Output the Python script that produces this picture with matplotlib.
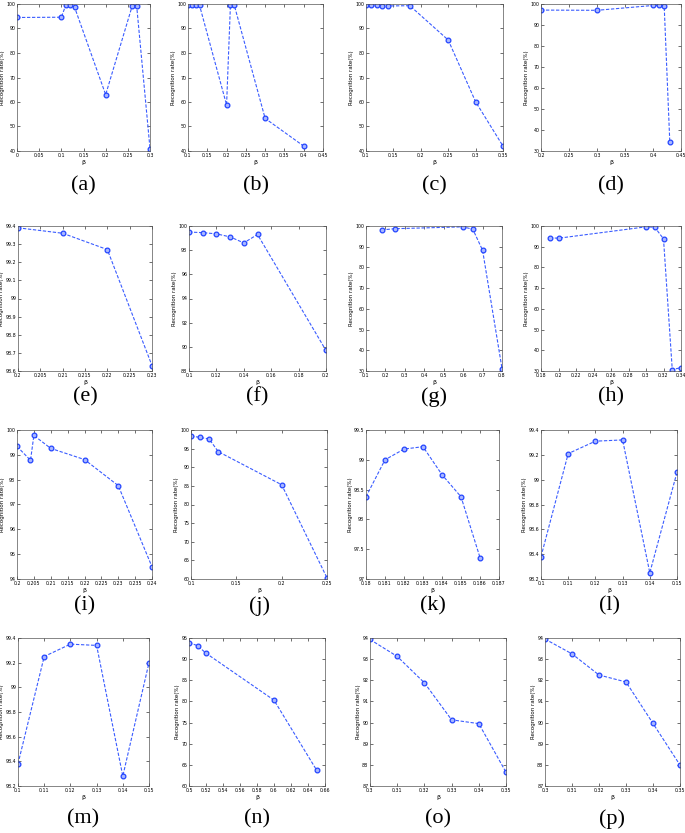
import numpy as np
import matplotlib.pyplot as plt
from matplotlib.ticker import MultipleLocator, FuncFormatter

# values, one pair of lists per panel
beta_a = [0.0, 0.1, 0.11, 0.12, 0.13, 0.2, 0.26, 0.27, 0.3]
rate_a = [94.5, 94.6, 99.5, 99.5, 98.6, 63.0, 99.3, 99.1, 41.0]
beta_b = [0.1, 0.11, 0.12, 0.13, 0.2, 0.21, 0.22, 0.3, 0.4]
rate_b = [99.5, 99.5, 99.4, 99.4, 58.8, 99.5, 99.5, 53.3, 42.0]
beta_c = [0.1, 0.11, 0.12, 0.13, 0.14, 0.18, 0.25, 0.3, 0.35]
rate_c = [99.5, 99.5, 99.4, 99.3, 99.2, 99.3, 85.3, 60.1, 42.0]
beta_d = [0.2, 0.3, 0.4, 0.41, 0.42, 0.43]
rate_d = [97.1, 97.0, 99.3, 99.3, 99.0, 34.2]

beta_e = [0.2, 0.21, 0.22, 0.23]
rate_e = [99.39, 99.36, 99.27, 98.63]
beta_f = [0.1, 0.11, 0.12, 0.13, 0.14, 0.15, 0.2]
rate_f = [99.5, 99.45, 99.35, 99.1, 98.6, 99.3, 89.7]
beta_g = [0.18, 0.25, 0.6, 0.65, 0.7, 0.8]
rate_g = [98.1, 98.7, 99.6, 98.4, 88.3, 31.2]
beta_h = [0.19, 0.2, 0.3, 0.31, 0.32, 0.33, 0.34]
rate_h = [94.3, 94.1, 99.6, 99.4, 93.8, 30.7, 31.6]

beta_i = [0.2, 0.204, 0.205, 0.21, 0.22, 0.23, 0.24]
rate_i = [99.34, 98.78, 99.78, 99.26, 98.81, 97.76, 94.49]
beta_j = [0.1, 0.11, 0.12, 0.13, 0.2, 0.25]
rate_j = [98.4, 98.0, 97.6, 94.2, 85.3, 60.3]
beta_k = [0.18, 0.181, 0.182, 0.183, 0.184, 0.185, 0.186]
rate_k = [98.38, 99.0, 99.18, 99.22, 98.75, 98.38, 97.36]
beta_l = [0.1, 0.11, 0.12, 0.13, 0.14, 0.15]
rate_l = [98.38, 99.21, 99.31, 99.32, 98.25, 99.06]

beta_m = [0.1, 0.11, 0.12, 0.13, 0.14, 0.15]
rate_m = [98.38, 99.25, 99.35, 99.34, 98.28, 99.2]
beta_n = [0.5, 0.51, 0.52, 0.6, 0.65]
rate_n = [93.9, 93.2, 91.4, 80.3, 63.8]
beta_o = [0.3, 0.31, 0.32, 0.33, 0.34, 0.35]
rate_o = [93.93, 93.13, 91.88, 90.13, 89.95, 87.65]
beta_p = [0.3, 0.31, 0.32, 0.33, 0.34, 0.35]
rate_p = [93.95, 93.25, 92.25, 91.92, 89.96, 87.99]

# (x, y, xlim, xstep, ylim, ystep)
panels = [
    (beta_a, rate_a, (0, 0.3), 0.05, (40, 100), 10),
    (beta_b, rate_b, (0.1, 0.45), 0.05, (40, 100), 10),
    (beta_c, rate_c, (0.1, 0.35), 0.05, (40, 100), 10),
    (beta_d, rate_d, (0.2, 0.45), 0.05, (30, 100), 10),
    (beta_e, rate_e, (0.2, 0.23), 0.005, (98.6, 99.4), 0.1),
    (beta_f, rate_f, (0.1, 0.2), 0.02, (88, 100), 2),
    (beta_g, rate_g, (0.1, 0.8), 0.1, (30, 100), 10),
    (beta_h, rate_h, (0.18, 0.34), 0.02, (30, 100), 10),
    (beta_i, rate_i, (0.2, 0.24), 0.005, (94, 100), 1),
    (beta_j, rate_j, (0.1, 0.25), 0.05, (60, 100), 5),
    (beta_k, rate_k, (0.18, 0.187), 0.001, (97, 99.5), 0.5),
    (beta_l, rate_l, (0.1, 0.15), 0.01, (98.2, 99.4), 0.2),
    (beta_m, rate_m, (0.1, 0.15), 0.01, (98.2, 99.4), 0.2),
    (beta_n, rate_n, (0.5, 0.66), 0.02, (60, 95), 5),
    (beta_o, rate_o, (0.3, 0.35), 0.01, (87, 94), 1),
    (beta_p, rate_p, (0.3, 0.35), 0.01, (87, 94), 1),
]
letters = 'abcdefghijklmnop'

W, H = 685, 833
# axes boxes in pixels: left, right, top, bottom
col_lr = [[(17, 150), (188, 323), (366, 503), (541, 681)],
          [(18, 152), (189, 326), (366, 502), (541, 681)],
          [(17, 152), (191, 327), (366, 499), (541, 677)],
          [(18, 149), (189, 325), (370, 506), (545, 680)]]
row_tb = [(4, 151), (226, 371), (430, 579), (638, 786)]
label_y = [186, 397, 606, 819]

fmt = FuncFormatter(lambda v, p: '%g' % round(v, 6))

fig = plt.figure(figsize=(W / 100, H / 100), dpi=100)
for k, (x, y, xl, xs, yl, ys) in enumerate(panels):
    r, c = divmod(k, 4)
    l, rr = col_lr[r][c]
    t, b = row_tb[r]
    ax = fig.add_axes([l / W, 1 - b / H, (rr - l) / W, (b - t) / H])
    ax.plot(x, y, '--', color='#3a5cff', lw=0.8, marker='o', ms=3.4,
            mfc='#aab8ff', mec='#2244ff', mew=0.9, dashes=(3, 1.5))
    ax.set_xlim(xl)
    ax.set_ylim(yl)
    ax.xaxis.set_major_locator(MultipleLocator(xs))
    ax.yaxis.set_major_locator(MultipleLocator(ys))
    ax.xaxis.set_major_formatter(fmt)
    ax.yaxis.set_major_formatter(fmt)
    ax.tick_params(direction='in', length=2, width=0.4, labelsize=3.4,
                   pad=1.2, top=True, right=True)
    for s in ax.spines.values():
        s.set_linewidth(0.5)
        s.set_color('#555555')
    ax.set_xlabel('β', fontsize=4.5, labelpad=1.5)
    ax.set_ylabel('Recognition rate(%)', fontsize=4.0, labelpad=0.8)
    fig.text((l + rr) / 2 / W, 1 - label_y[r] / H, '(%s)' % letters[k],
             ha='center', va='center', fontsize=16, family='Liberation Serif')

fig.savefig('out.png', dpi=100, facecolor='white')
